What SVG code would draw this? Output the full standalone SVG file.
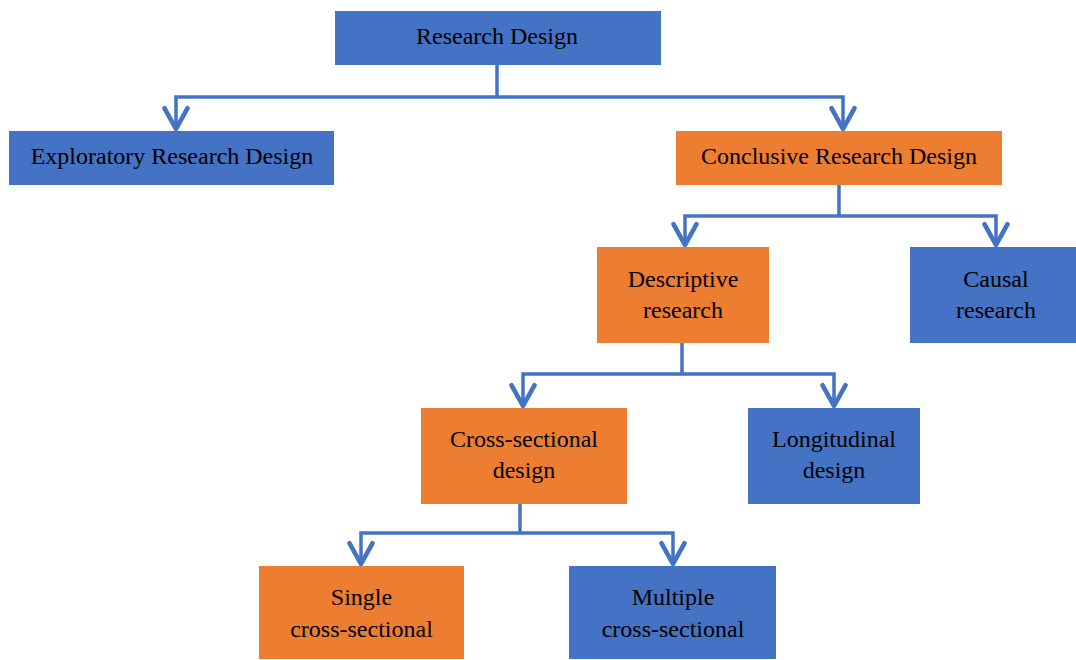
<svg xmlns="http://www.w3.org/2000/svg" width="1076" height="660" viewBox="0 0 1076 660">
  <style>
    .blue { fill: #4472C4; }
    .orange { fill: #ED7D31; }
    .label { font-family: "Liberation Serif", "Times New Roman", serif; font-size: 24px; fill: #000; text-anchor: middle; }
    .link { fill: none; stroke: #4472C4; stroke-width: 3.5; stroke-linejoin: miter; }
  </style>
  <defs>
    <marker id="chevron" markerUnits="userSpaceOnUse" markerWidth="30" markerHeight="30" viewBox="-22 -13 26 26" refX="0" refY="0" orient="auto-start-reverse">
      <path d="M-18,-10 L0,0 L-18,10" fill="none" stroke="#4472C4" stroke-width="4" stroke-linecap="round" stroke-linejoin="round"/>
    </marker>
  </defs>

  <!-- tree connectors: a stem from the parent, then a bracket ending in two arrows -->
  <g id="connectors">
    <path class="link" d="M497,65 V97"/>
    <path class="link" d="M176,129 V97 H843 V129" marker-start="url(#chevron)" marker-end="url(#chevron)"/>

    <path class="link" d="M839,185 V216"/>
    <path class="link" d="M685,245 V216 H996 V245" marker-start="url(#chevron)" marker-end="url(#chevron)"/>

    <path class="link" d="M682,343 V374"/>
    <path class="link" d="M523,406 V374 H834 V406" marker-start="url(#chevron)" marker-end="url(#chevron)"/>

    <path class="link" d="M520,504 V533"/>
    <path class="link" d="M361,564 V533 H673 V564" marker-start="url(#chevron)" marker-end="url(#chevron)"/>
  </g>

  <g id="research-design">
    <rect class="blue" x="335" y="11" width="326" height="54"/>
    <text class="label" x="497" y="44">Research Design</text>
  </g>

  <g id="exploratory">
    <rect class="blue" x="9" y="131" width="325" height="54"/>
    <text class="label" x="172" y="164">Exploratory Research Design</text>
  </g>

  <g id="conclusive">
    <rect class="orange" x="676" y="131" width="326" height="54"/>
    <text class="label" x="839" y="164">Conclusive Research Design</text>
  </g>

  <g id="descriptive">
    <rect class="orange" x="597" y="247" width="172" height="96"/>
    <text class="label" x="683" y="287">Descriptive</text>
    <text class="label" x="683" y="318">research</text>
  </g>

  <g id="causal">
    <rect class="blue" x="910" y="247" width="172" height="96"/>
    <text class="label" x="996" y="287">Causal</text>
    <text class="label" x="996" y="318">research</text>
  </g>

  <g id="cross-sectional">
    <rect class="orange" x="421" y="408" width="206" height="96"/>
    <text class="label" x="524" y="447">Cross-sectional</text>
    <text class="label" x="524" y="478">design</text>
  </g>

  <g id="longitudinal">
    <rect class="blue" x="748" y="408" width="172" height="96"/>
    <text class="label" x="834" y="447">Longitudinal</text>
    <text class="label" x="834" y="478">design</text>
  </g>

  <g id="single">
    <rect class="orange" x="259" y="566" width="205" height="93"/>
    <text class="label" x="361.5" y="605">Single</text>
    <text class="label" x="361.5" y="637">cross-sectional</text>
  </g>

  <g id="multiple">
    <rect class="blue" x="569" y="566" width="207" height="93"/>
    <text class="label" x="673" y="605">Multiple</text>
    <text class="label" x="673" y="637">cross-sectional</text>
  </g>
</svg>
